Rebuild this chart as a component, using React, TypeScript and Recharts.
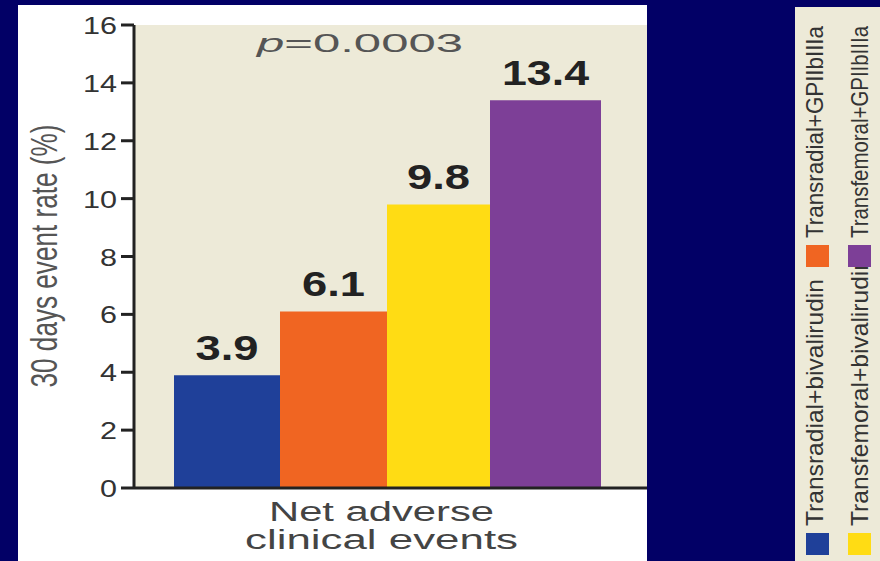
import { BarChart, Bar, XAxis, YAxis, CartesianGrid, LabelList, Customized } from 'recharts';

const categories = ['Net adverse clinical events'];
const categoryLines = [['Net adverse', 'clinical events']];
const seriesNames = [
  'Transradial+bivalirudin',
  'Transradial+GPIIbIIIa',
  'Transfemoral+bivalirudin',
  'Transfemoral+GPIIbIIIa',
];
const seriesValues = [3.9, 6.1, 9.8, 13.4];
const seriesColors = ['#1F4099', '#F06522', '#FFDC14', '#7D3F97'];
const yTicks = [0, 2, 4, 6, 8, 10, 12, 14, 16];
const pValueText = '=0.0003';
const yAxisTitle = '30 days event rate (%)';

const NAVY = '#020066';
const CREAM = '#EDEAD8';
const FONT = "'Liberation Sans', Arial, sans-serif";

// widths (the bars are not all equal)
const barSizes = [106, 107, 103, 111];
const categoryLineWidths = [225, 273];
const legendTextWidths = [247, 212, 269, 212];

const data = categories.map((category) => {
  const row: Record<string, string | number> = { category };
  seriesValues.forEach((v, i) => {
    row['s' + i] = v;
  });
  return row;
});

// y tick: digits look stretched wide in the source
const YTick = ({ x, y, payload }: any) => {
  const label = String(payload.value);
  return (
    <text
      x={x}
      y={y + 9}
      textAnchor="end"
      fontSize={24}
      fontFamily={FONT}
      fill="#333"
      textLength={label.length * 17}
      lengthAdjust="spacingAndGlyphs"
    >
      {label}
    </text>
  );
};

const XTick = ({ x, y, index }: any) => {
  const lines = categoryLines[index] || [categories[index]];
  return (
    <g>
      {lines.map((line, i) => (
        <text
          key={line}
          x={x - 6}
          y={y + 25 + i * 28}
          textAnchor="middle"
          fontSize={27}
          fontFamily={FONT}
          fill="#444"
          textLength={categoryLineWidths[i]}
          lengthAdjust="spacingAndGlyphs"
        >
          {line}
        </text>
      ))}
    </g>
  );
};

const YTitle = () => (
  <text
    x={57}
    y={256}
    transform="rotate(-90, 57, 256)"
    textAnchor="middle"
    fontSize={36}
    fontFamily={FONT}
    fill="#555"
    textLength={263}
    lengthAdjust="spacingAndGlyphs"
  >
    {yAxisTitle}
  </text>
);

const PValue = () => (
  <text
    x={360}
    y={52}
    textAnchor="middle"
    fontSize={26}
    fontFamily={FONT}
    fill="#555"
    textLength={206}
    lengthAdjust="spacingAndGlyphs"
  >
    <tspan fontStyle="italic">p</tspan>
    {pValueText}
  </text>
);

const ValueLabel = ({ x, y, width, value }: any) => {
  const label = Number(value).toFixed(1);
  const len = label.replace('.', '').length * 24 + 15;
  return (
    <text
      x={x + width / 2}
      y={y - 15}
      textAnchor="middle"
      fontSize={35}
      fontWeight="bold"
      fontFamily={FONT}
      fill="#222"
      textLength={len}
      lengthAdjust="spacingAndGlyphs"
    >
      {label}
    </text>
  );
};

// rotated legend on the right, two columns
const SideLegend = () => (
  <svg width={85} height={554} style={{ position: 'absolute', left: 795, top: 7 }}>
    <rect x={0} y={0} width={85} height={554} fill={CREAM} />
    {seriesNames.map((name, i) => {
      const col = Math.floor(i / 2);
      const row = i % 2;
      const sqX = 11 + col * 42;
      const sqY = row === 0 ? 526 : 238;
      const tx = 28 + col * 45;
      const ty = sqY - 7;
      return (
        <g key={name}>
          <rect x={sqX} y={sqY} width={23} height={22} fill={seriesColors[i]} />
          <text
            x={tx}
            y={ty}
            transform={`rotate(-90, ${tx}, ${ty})`}
            fontSize={24}
            fontFamily={FONT}
            fill="#333"
            textLength={legendTextWidths[i]}
            lengthAdjust="spacingAndGlyphs"
          >
            {name}
          </text>
        </g>
      );
    })}
  </svg>
);

export default function App() {
  return (
    <div style={{ position: 'relative', width: 880, height: 561, background: NAVY, overflow: 'hidden' }}>
      <style>{'body{margin:0}'}</style>
      <div style={{ position: 'absolute', left: 18, top: 5, width: 629, height: 556, background: '#fff' }} />
      <div style={{ position: 'absolute', left: 0, top: 0 }}>
        <BarChart
          width={880}
          height={561}
          data={data}
          margin={{ top: 25, right: 233, bottom: 0, left: 0 }}
          barCategoryGap={40}
          barGap={0}
        >
          <CartesianGrid horizontal={false} vertical={false} fill={CREAM} />
          <XAxis
            dataKey="category"
            height={73}
            padding={{ left: 0, right: 6 }}
            axisLine={{ stroke: '#222', strokeWidth: 3 }}
            tickLine={false}
            tick={<XTick />}
            interval={0}
          />
          <YAxis
            width={134}
            domain={[0, 16]}
            ticks={yTicks}
            interval={0}
            tickSize={13}
            tickMargin={4}
            axisLine={{ stroke: '#222', strokeWidth: 3 }}
            tickLine={{ stroke: '#222', strokeWidth: 3 }}
            tick={<YTick />}
          />
          {seriesNames.map((name, i) => (
            <Bar
              key={name}
              dataKey={'s' + i}
              name={name}
              fill={seriesColors[i]}
              barSize={barSizes[i]}
              isAnimationActive={false}
            >
              <LabelList dataKey={'s' + i} content={<ValueLabel />} />
            </Bar>
          ))}
          <Customized component={<PValue />} />
          <Customized component={<YTitle />} />
        </BarChart>
      </div>
      <SideLegend />
    </div>
  );
}
